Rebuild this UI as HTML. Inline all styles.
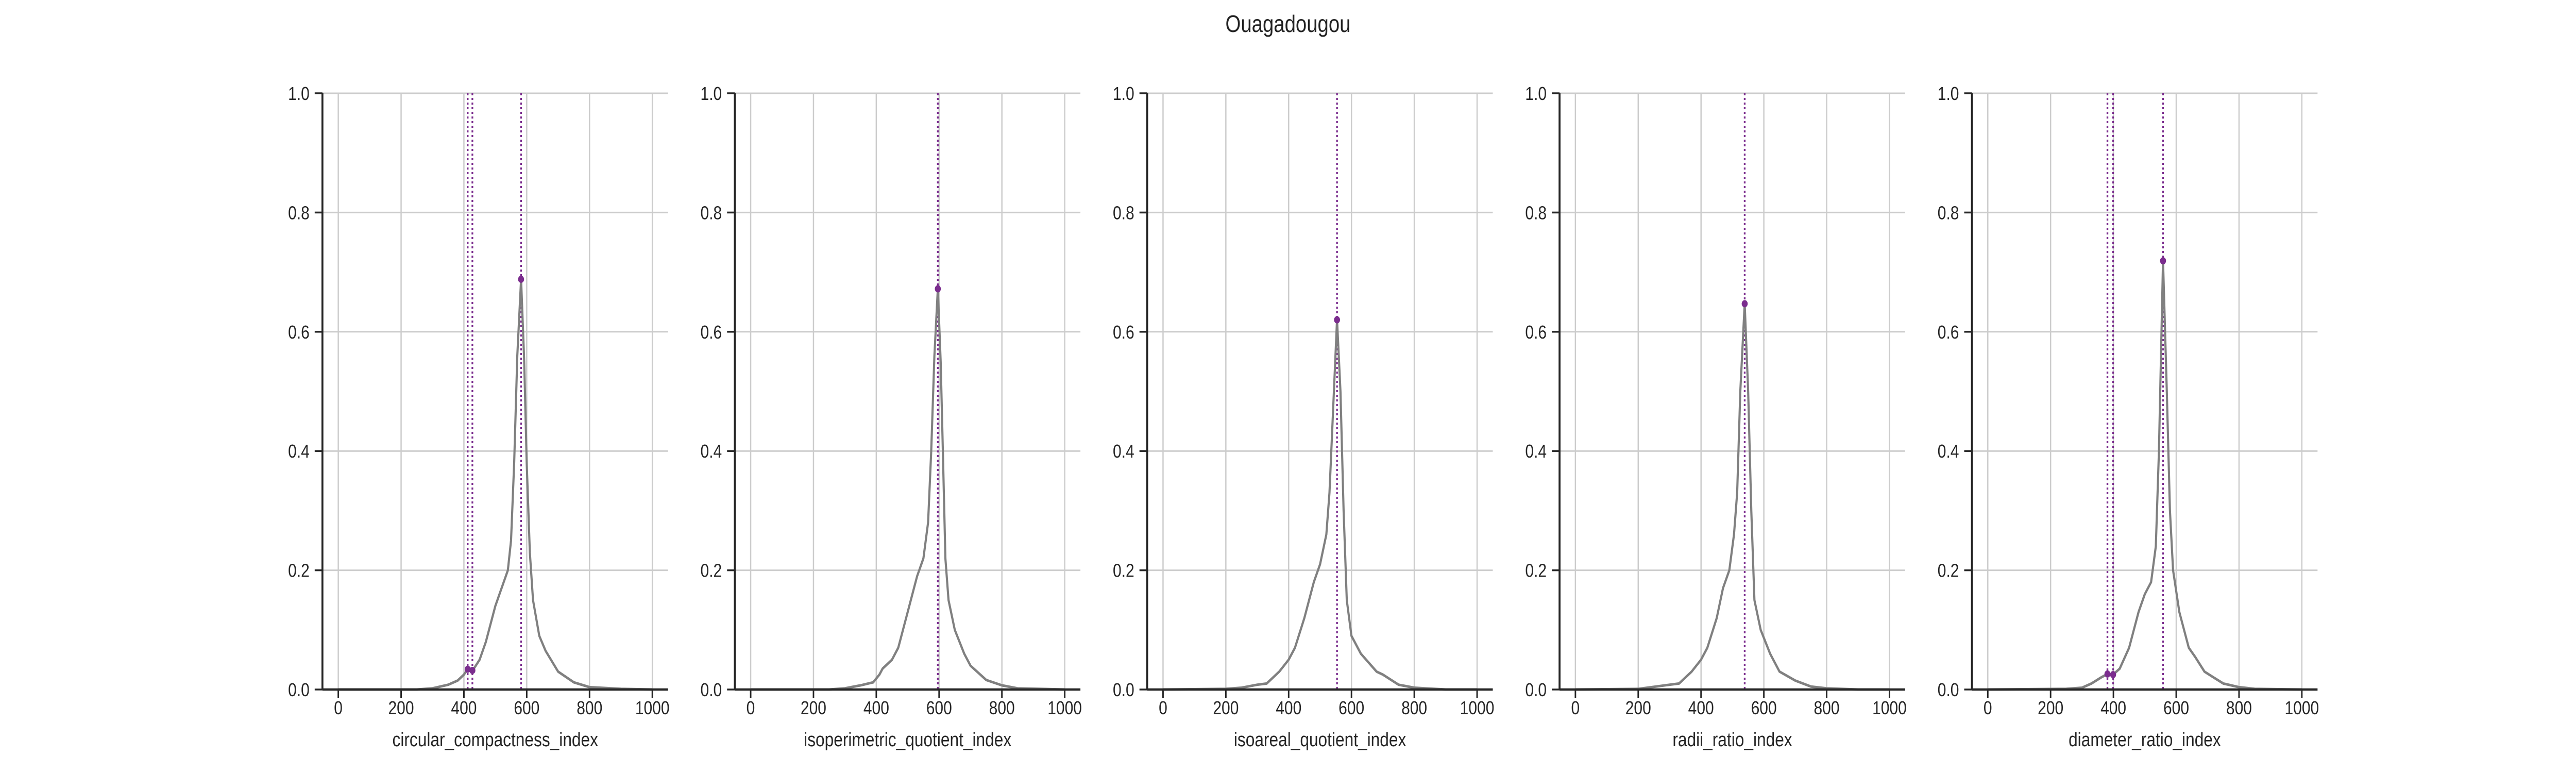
<!DOCTYPE html>
<html><head><meta charset="utf-8"><style>
html,body{margin:0;padding:0;background:#fff;width:100%;height:100%;overflow:hidden;}
svg{display:block;width:100vw;height:100vh;font-family:"Liberation Sans",Arial,sans-serif;}
</style></head><body>
<svg id="chart" viewBox="0 0 6000 1500" preserveAspectRatio="none" xmlns="http://www.w3.org/2000/svg">
<rect width="6000" height="1500" fill="#fff"/>
<text x="3000" y="62" font-size="46" text-anchor="middle" fill="#222">Ouagadougou</text>
</svg>
<script>
const panelTitles = ["circular_compactness_index","isoperimetric_quotient_index","isoareal_quotient_index","radii_ratio_index","diameter_ratio_index"];
const xTicks = [0,200,400,600,800,1000];
const yTicks = [0,0.2,0.4,0.6,0.8,1.0];
const yTickLabels = ["0.0","0.2","0.4","0.6","0.8","1.0"];
const curveX1 = [0,250,300,350,380,400,412,428,450,470,500,520,540,550,560,570,582,592,600,610,620,640,660,700,750,800,900,1000];
const curveY1 = [0,0,0.002,0.008,0.015,0.025,0.034,0.032,0.05,0.08,0.14,0.17,0.2,0.25,0.38,0.56,0.688,0.55,0.38,0.23,0.15,0.09,0.065,0.03,0.012,0.004,0.001,0];
const curveX2 = [0,250,300,350,390,410,420,450,470,500,530,550,565,575,585,596,605,612,620,630,650,680,700,750,800,850,1000];
const curveY2 = [0,0,0.002,0.007,0.012,0.025,0.035,0.05,0.07,0.13,0.19,0.22,0.28,0.4,0.56,0.672,0.55,0.4,0.22,0.15,0.1,0.06,0.04,0.016,0.007,0.002,0];
const curveX3 = [0,200,250,300,330,370,400,420,450,480,500,520,530,540,554,565,575,585,600,630,680,700,750,800,900,1000];
const curveY3 = [0,0.001,0.003,0.008,0.01,0.03,0.05,0.07,0.12,0.18,0.21,0.26,0.33,0.45,0.62,0.5,0.3,0.15,0.09,0.06,0.03,0.025,0.008,0.003,0,0];
const curveX4 = [0,200,300,330,370,400,420,450,470,490,505,515,525,539,550,560,570,590,620,650,700,750,800,900,1000];
const curveY4 = [0,0.001,0.008,0.01,0.03,0.05,0.07,0.12,0.17,0.2,0.26,0.33,0.5,0.647,0.5,0.3,0.15,0.1,0.06,0.03,0.015,0.005,0.002,0,0];
const curveX5 = [0,250,300,330,360,381,399,420,450,480,500,520,535,545,558,570,580,590,610,640,660,690,720,750,800,850,1000];
const curveY5 = [0,0.001,0.003,0.01,0.02,0.026,0.025,0.035,0.07,0.13,0.16,0.18,0.24,0.4,0.719,0.5,0.3,0.2,0.13,0.07,0.055,0.03,0.02,0.01,0.004,0.001,0];
const peakX1 = [412,427,582]; const peakY1 = [0.034,0.032,0.688];
const peakX2 = [596]; const peakY2 = [0.672];
const peakX3 = [554]; const peakY3 = [0.62];
const peakX4 = [539]; const peakY4 = [0.647];
const peakX5 = [381,399,558]; const peakY5 = [0.026,0.025,0.719];

const curvesX=[curveX1,curveX2,curveX3,curveX4,curveX5];
const curvesY=[curveY1,curveY2,curveY3,curveY4,curveY5];
const peaksX=[peakX1,peakX2,peakX3,peakX4,peakX5];
const peaksY=[peakY1,peakY2,peakY3,peakY4,peakY5];

const NS="http://www.w3.org/2000/svg";
const svgEl=document.getElementById('chart');
function mk(tag,attrs,parent){const e=document.createElementNS(NS,tag);for(const k in attrs)e.setAttribute(k,attrs[k]);(parent||svgEl).appendChild(e);return e;}
const plotTop=181, plotBottom=1338, plotW=805, xmin=-50.5, xmax=1050;
for(let p=0;p<5;p++){
  const L=751+p*960.5;
  const sx=v=>L+(v-xmin)/(xmax-xmin)*plotW;
  const sy=v=>plotBottom-v*(plotBottom-plotTop);
  const g=mk('g',{});
  
  
  xTicks.forEach(t=>{
    const l=mk('line',{x1:sx(t),x2:sx(t),y1:plotTop,y2:plotBottom,stroke:'#cccccc','stroke-width':3},g);
    
    
    const tk=mk('line',{x1:sx(t),x2:sx(t),y1:plotBottom,y2:plotBottom+16,stroke:'#262626','stroke-width':3.5},g);
    
    
    const tx=mk('text',{x:sx(t),y:plotBottom+48,'font-size':36,'text-anchor':'middle',fill:'#262626'},g);
    tx.textContent=t;
    
    
  });
  yTicks.forEach((t,i)=>{
    const l=mk('line',{x1:L,x2:L+plotW,y1:sy(t),y2:sy(t),stroke:'#cccccc','stroke-width':3},g);
    
    
    const tk=mk('line',{x1:L-18,x2:L,y1:sy(t),y2:sy(t),stroke:'#262626','stroke-width':3.5},g);
    
    
    const tx=mk('text',{x:L-30,y:sy(t)+13,'font-size':36,'text-anchor':'end',fill:'#262626'},g);
    tx.textContent=yTickLabels[i];
    
    
  });
  peaksX[p].forEach(v=>{
    const l=mk('line',{x1:sx(v),x2:sx(v),y1:plotTop,y2:plotBottom,stroke:'#7b2d8e','stroke-width':4,'stroke-dasharray':'4 5'},g);
    
    
  });
  const cx=curvesX[p], cy=curvesY[p];
  let d='';
  cx.forEach((v,i)=>{d+=(i?'L':'M')+sx(v).toFixed(1)+','+sy(cy[i]).toFixed(1);});
  const path=mk('path',{d:d,fill:'none',stroke:'#808080','stroke-width':5,'stroke-linejoin':'round'},g);
  
  
  peaksX[p].forEach((v,i)=>{
    const c=mk('circle',{cx:sx(v),cy:sy(peaksY[p][i]),r:7,fill:'#7b2d8e'},g);
    
    
  });
  const sp1=mk('line',{x1:L,x2:L,y1:plotTop,y2:plotBottom,stroke:'#262626','stroke-width':4.5},g);
  
  
  const sp2=mk('line',{x1:L,x2:L+plotW,y1:plotBottom,y2:plotBottom,stroke:'#262626','stroke-width':4.5},g);
  
  
  const xl=mk('text',{x:L+plotW/2,y:1448,'font-size':38,'text-anchor':'middle',fill:'#262626'},g);
  xl.textContent=panelTitles[p];
  
  
}
</script>
</body></html>
